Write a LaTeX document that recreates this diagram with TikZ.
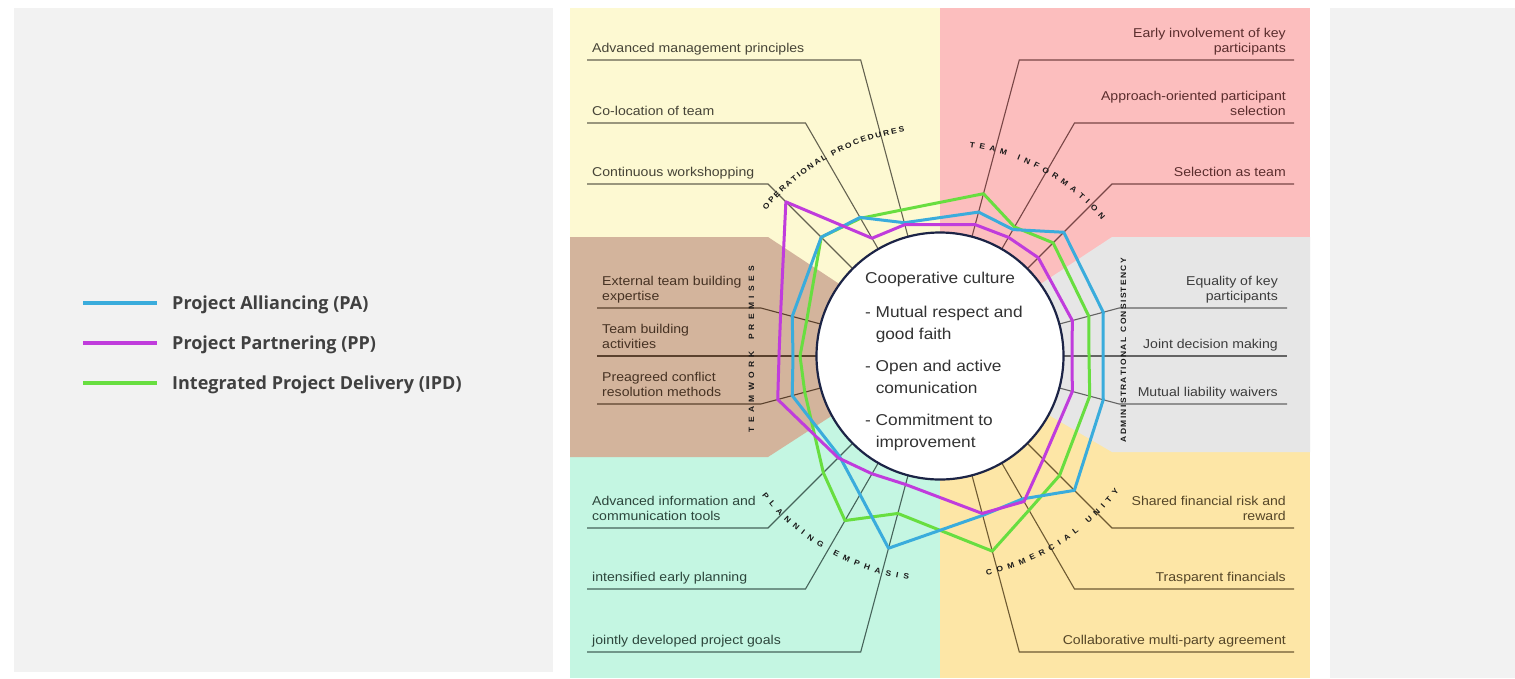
\documentclass[tikz,border=0pt]{standalone}
\usepackage{fontspec}
\setmainfont{Liberation Sans}[FakeStretch=1.1]
\newfontfamily\legendfont{Open Sans}
\usetikzlibrary{calc,decorations.text}
\definecolor{pa}{RGB}{58,172,220}
\definecolor{pp}{RGB}{192,60,220}
\definecolor{ipd}{RGB}{104,222,64}
\definecolor{bgpanel}{RGB}{242,242,242}
\definecolor{secY}{RGB}{253,249,210}
\definecolor{secP}{RGB}{252,190,190}
\definecolor{secG}{RGB}{230,230,230}
\definecolor{secO}{RGB}{253,230,166}
\definecolor{secM}{RGB}{196,246,226}
\definecolor{secB}{RGB}{211,180,156}
\definecolor{navy}{RGB}{28,36,70}
\definecolor{textY}{RGB}{70,68,55}\definecolor{lineY}{RGB}{100,98,80}
\definecolor{textP}{RGB}{90,45,45}\definecolor{lineP}{RGB}{120,70,70}
\definecolor{textG}{RGB}{60,60,60}\definecolor{lineG}{RGB}{100,100,100}
\definecolor{textO}{RGB}{85,70,40}\definecolor{lineO}{RGB}{110,90,50}
\definecolor{textM}{RGB}{45,70,60}\definecolor{lineM}{RGB}{70,100,90}
\definecolor{textB}{RGB}{70,50,35}\definecolor{lineB}{RGB}{90,65,45}
\definecolor{legtext}{RGB}{64,64,64}
\begin{document}
\begin{tikzpicture}[x=1pt,y=1pt,
  lbl/.style={inner sep=0pt, text depth=3pt, font=\fontsize{12.8}{15}\selectfont},
  lblL/.style={lbl, anchor=south west, align=left},
  lblR/.style={lbl, anchor=south east, align=right},
  spk/.style={line width=1.1pt},
  poly/.style={line width=3pt, line join=round},
  arclbl/.style={decorate, decoration={text along path, text align={fit to path}, text color=black!90,
     text={|\fontsize{7.7}{9}\selectfont\bfseries|#1}}},
  legline/.style={line width=4pt},
  legtxt/.style={anchor=west, inner sep=0pt, text=legtext, font=\legendfont\bfseries\fontsize{18}{20}\selectfont}
]
\useasboundingbox (0,0) rectangle (1515,-678);
\fill[white] (0,0) rectangle (1515,-678);
% side panels
\fill[bgpanel] (14,-8) rectangle (553,-672);
\fill[bgpanel] (1330,-8) rectangle (1515,-678);
% sectors
\fill[secY] (570,-8) rectangle (940,-356);
\fill[secP] (940,-8) rectangle (1310,-356);
\fill[secM] (570,-356) rectangle (940,-678);
\fill[secO] (940,-356) rectangle (1310,-678);
\fill[secB] (570,-237) -- (768,-237) -- (850,-291) -- (850,-404) -- (768,-457) -- (570,-457) -- cycle;
\fill[secG] (1310,-237) -- (1112,-237) -- (1030,-291) -- (1030,-404) -- (1112,-452) -- (1310,-452) -- cycle;

\coordinate (C) at (940,-356);
\node[circle, minimum size=247pt, inner sep=0pt] (cc) at (C) {};

% kink and end coordinates
\coordinate (k1) at (860.7,-60);  \coordinate (e1) at (587,-60);
\coordinate (k2) at (805.5,-123); \coordinate (e2) at (587,-123);
\coordinate (k3) at (768,-184);   \coordinate (e3) at (587,-184);
\coordinate (k4) at (760.9,-308); \coordinate (e4) at (597,-308);
\coordinate (e5) at (597,-356);
\coordinate (k6) at (760.9,-404); \coordinate (e6) at (597,-404);
\coordinate (k7) at (768,-528);   \coordinate (e7) at (587,-528);
\coordinate (k8) at (805.5,-589); \coordinate (e8) at (587,-589);
\coordinate (k9) at (860.7,-652); \coordinate (e9) at (587,-652);
\coordinate (k10) at (1019.3,-652); \coordinate (e10) at (1294,-652);
\coordinate (k11) at (1074.5,-589); \coordinate (e11) at (1294,-589);
\coordinate (k12) at (1112,-528);   \coordinate (e12) at (1294,-528);
\coordinate (k13) at (1119.1,-404); \coordinate (e13) at (1287,-404);
\coordinate (e14) at (1287,-356);
\coordinate (k15) at (1119.1,-308); \coordinate (e15) at (1287,-308);
\coordinate (k16) at (1112,-184);   \coordinate (e16) at (1294,-184);
\coordinate (k17) at (1074.5,-123); \coordinate (e17) at (1294,-123);
\coordinate (k18) at (1019.3,-60);  \coordinate (e18) at (1294,-60);

% spokes
\draw[spk, lineY] (cc.105) -- (k1) -- (e1);
\draw[spk, lineY] (cc.120) -- (k2) -- (e2);
\draw[spk, lineY] (cc.135) -- (k3) -- (e3);
\draw[spk, lineB] (cc.165) -- (k4) -- (e4);
\draw[spk, lineB] (cc.180) -- (e5);
\draw[spk, lineB] (cc.195) -- (k6) -- (e6);
\draw[spk, lineM] (cc.225) -- (k7) -- (e7);
\draw[spk, lineM] (cc.240) -- (k8) -- (e8);
\draw[spk, lineM] (cc.255) -- (k9) -- (e9);
\draw[spk, lineO] (cc.285) -- (k10) -- (e10);
\draw[spk, lineO] (cc.300) -- (k11) -- (e11);
\draw[spk, lineO] (cc.315) -- (k12) -- (e12);
\draw[spk, lineG] (cc.345) -- (k13) -- (e13);
\draw[spk, lineG] (cc.0) -- (e14);
\draw[spk, lineG] (cc.15) -- (k15) -- (e15);
\draw[spk, lineP] (cc.45) -- (k16) -- (e16);
\draw[spk, lineP] (cc.60) -- (k17) -- (e17);
\draw[spk, lineP] (cc.75) -- (k18) -- (e18);

% radar polygons
\begin{scope}[shift={(C)}]
\draw[poly, ipd] (75:168pt) -- (60:149pt) -- (45:160pt) -- (15:154pt) -- (0:149pt) -- (345:155pt)
  -- (315:169pt) -- (300:178pt) -- (285:202pt) -- (255:163pt) -- (240:190pt) -- (225:165pt)
  -- (195:140pt) -- (180:140pt) -- (165:138pt) -- (135:168pt) -- (120:159pt) -- (105:151pt) -- cycle;
\draw[poly, pa] (75:149pt) -- (60:146pt) -- (45:175pt) -- (15:169pt) -- (0:163pt) -- (345:169pt)
  -- (315:190pt) -- (300:165pt) -- (285:165pt) -- (255:199pt) -- (240:160pt) -- (225:142pt)
  -- (195:153pt) -- (180:147pt) -- (165:153pt) -- (135:168pt) -- (120:160pt) -- (105:138pt) -- cycle;
\draw[poly, pp] (75:136pt) -- (60:137pt) -- (45:139pt) -- (15:137pt) -- (0:132pt) -- (345:137pt)
  -- (315:146pt) -- (300:168pt) -- (285:163pt) -- (255:133pt) -- (240:136pt) -- (225:144pt)
  -- (195:168pt) -- (180:161pt) -- (165:165pt) -- (135:218pt) -- (120:136pt) -- (105:136pt) -- cycle;
\end{scope}

% central circle
\node[circle, draw=navy, line width=2.2pt, fill=white, minimum size=247pt, inner sep=0pt] (circ) at (C) {};
\node[anchor=north west, inner sep=0pt, align=left, text=black!80,
      font=\fontsize{15.7}{22}\selectfont] (core) at (865,-272)
  {Cooperative culture\\[12pt]
   - Mutual respect and\\ \hphantom{- }good faith\\[10pt]
   - Open and active\\ \hphantom{- }comunication\\[10pt]
   - Commitment to\\ \hphantom{- }improvement};

% labels
\node[lblL, text=textY] (n1) at (592,-56) {Advanced management principles};
\node[lblL, text=textY] (n2) at (592,-119) {Co-location of team};
\node[lblL, text=textY] (n3) at (592,-180) {Continuous workshopping};
\node[lblL, text=textB] (n4) at (602,-304) {External team building\\expertise};
\node[lblL, text=textB] (n5) at (602,-352) {Team building\\activities};
\node[lblL, text=textB] (n6) at (602,-400) {Preagreed conflict\\resolution methods};
\node[lblL, text=textM] (n7) at (592,-524) {Advanced information and\\communication tools};
\node[lblL, text=textM] (n8) at (592,-585) {intensified early planning};
\node[lblL, text=textM] (n9) at (592,-648) {jointly developed project goals};
\node[lblR, text=textO] (n10) at (1286,-648) {Collaborative multi-party agreement};
\node[lblR, text=textO] (n11) at (1286,-585) {Trasparent financials};
\node[lblR, text=textO] (n12) at (1286,-524) {Shared financial risk and\\reward};
\node[lblR, text=textG] (n13) at (1278,-400) {Mutual liability waivers};
\node[lblR, text=textG] (n14) at (1278,-352) {Joint decision making};
\node[lblR, text=textG] (n15) at (1278,-304) {Equality of key\\participants};
\node[lblR, text=textP] (n16) at (1286,-180) {Selection as team};
\node[lblR, text=textP] (n17) at (1286,-119) {Approach-oriented participant\\selection};
\node[lblR, text=textP] (n18) at (1286,-56) {Early involvement of key\\participants};

% curved sector titles
\path[arclbl={OPERATIONAL PROCEDURES}] ($(C)+(140:227pt)$) arc[start angle=140, end angle=99, radius=227pt];
\path[arclbl={TEAM INFORMATION}] ($(C)+(82:211pt)$) arc[start angle=82, end angle=40, radius=211pt];
\path[arclbl={COMMERCIAL UNITY}] ($(C)+(-78:224pt)$) arc[start angle=-78, end angle=-37, radius=224pt];
\path[arclbl={PLANNING EMPHASIS}] ($(C)+(-142:226pt)$) arc[start angle=-142, end angle=-98, radius=226pt];
\path[arclbl={TEAMWORK PREMISES}] (754,-432) -- (754,-266);
\path[arclbl={ADMINISTRATIONAL CONSISTENCY}] (1126,-442) -- (1126,-258);

% legend
\coordinate (l1a) at (83,-303); \coordinate (l1b) at (157,-303);
\coordinate (l2a) at (83,-343); \coordinate (l2b) at (157,-343);
\coordinate (l3a) at (83,-383); \coordinate (l3b) at (157,-383);
\draw[legline, pa] (l1a) -- (l1b);
\draw[legline, pp] (l2a) -- (l2b);
\draw[legline, ipd] (l3a) -- (l3b);
\node[legtxt] (t1) at (172,-305) {Project Alliancing (PA)};
\node[legtxt] (t2) at (172,-345) {Project Partnering (PP)};
\node[legtxt] (t3) at (172,-385) {Integrated Project Delivery (IPD)};
\end{tikzpicture}
\end{document}
